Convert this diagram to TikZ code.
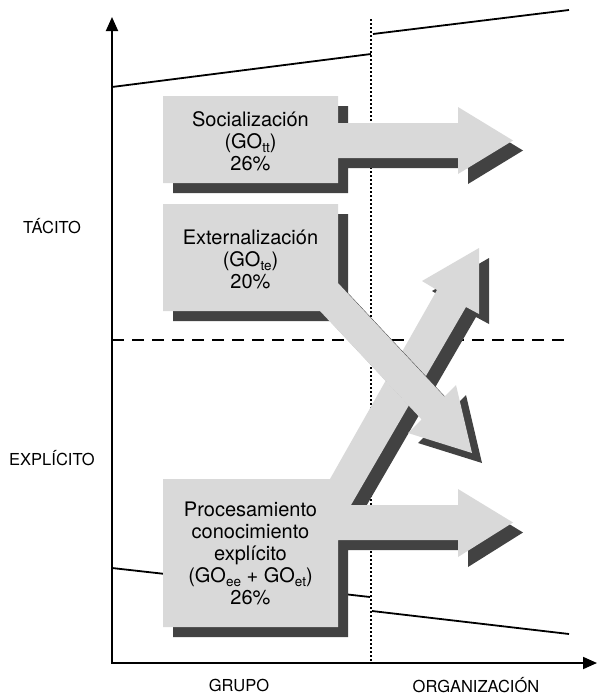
\documentclass[tikz,border=0pt]{standalone}
\usepackage{fontspec}
\setmainfont{TeX Gyre Heros}
\usetikzlibrary{arrows.meta}
\definecolor{lightg}{HTML}{D9D9D9}
\definecolor{darkg}{HTML}{424242}
\newcommand{\sbs}[1]{\raisebox{-4.5pt}{\fontsize{13.5}{14}\selectfont #1}}
\begin{document}
\begin{tikzpicture}[x=1pt,y=-1pt,
  axisline/.style={line width=1.8pt,-{Triangle[length=14pt,width=12pt]}},
  trendline/.style={line width=1.8pt},
  dotline/.style={line width=2pt,dash pattern=on 2pt off 2pt},
  dashline/.style={line width=1.8pt,dash pattern=on 12pt off 8pt},
  shadowfill/.style={fill=darkg,shift={(10,10)}},
  lightfill/.style={fill=lightg},
  boxtext/.style={font=\fontsize{20}{22}\selectfont,align=center,inner sep=0pt},
  lab/.style={font=\fontsize{16.5}{18}\selectfont,inner sep=0pt}]
\useasboundingbox (0,0) rectangle (597,696);
% reference lines
\draw[dotline] (371,19) -- (371,663);
\draw[dashline] (112,340) -- (567,340);
\draw[trendline] (112,87) -- (371,54);
\draw[trendline] (373,34) -- (569,10);
\draw[trendline] (112,568) -- (370,597);
\draw[trendline] (372,611) -- (569,634);
% axes
\draw[axisline] (112,663) -- (112,17);
\draw[axisline] (111,663) -- (597,663);
% shapes
\def\procpath{(163,479) -- (330,479) -- (437,290) -- (422,281) -- (479,248) -- (479,314) -- (466,307) -- (351,505) -- (458,505) -- (458,489) -- (513,522.5) -- (458,557) -- (458,540) -- (338,540) -- (338,627) -- (163,627) -- cycle}
\def\extpath{(163,204) -- (338,204) -- (338,283) -- (444.4,396.6) -- (456,385) -- (472,453) -- (408,433) -- (421.6,419.4) -- (320,311) -- (163,311) -- cycle}
\def\socpath{(163,96) -- (338,96) -- (338,123) -- (458,123) -- (458,107) -- (513,140.5) -- (458,174) -- (458,158) -- (338,158) -- (338,183) -- (163,183) -- cycle}
\fill[shadowfill] \procpath;
\fill[lightfill] \procpath;
\fill[shadowfill] \extpath;
\fill[lightfill] \extpath;
\fill[shadowfill] \socpath;
\fill[lightfill] \socpath;
% texts
\node[boxtext] (soc) at (250.5,141) {Socialización\\(GO\sbs{tt})\\26\%};
\node[boxtext] (ext) at (250.5,259) {Externalización\\(GO\sbs{te})\\20\%};
\node[boxtext] (proc) at (250.5,553) {Procesamiento\\conocimiento\\explícito\\(GO\sbs{ee} + GO\sbs{et})\\26\%};
\node[lab,anchor=base] (tac) at (52,233) {TÁCITO};
\node[lab,anchor=base] (exp) at (52,465) {EXPLÍCITO};
\node[lab,anchor=base] (grp) at (239,691) {GRUPO};
\node[lab,anchor=base] (org) at (476,692) {ORGANIZACIÓN};
\end{tikzpicture}
\end{document}
